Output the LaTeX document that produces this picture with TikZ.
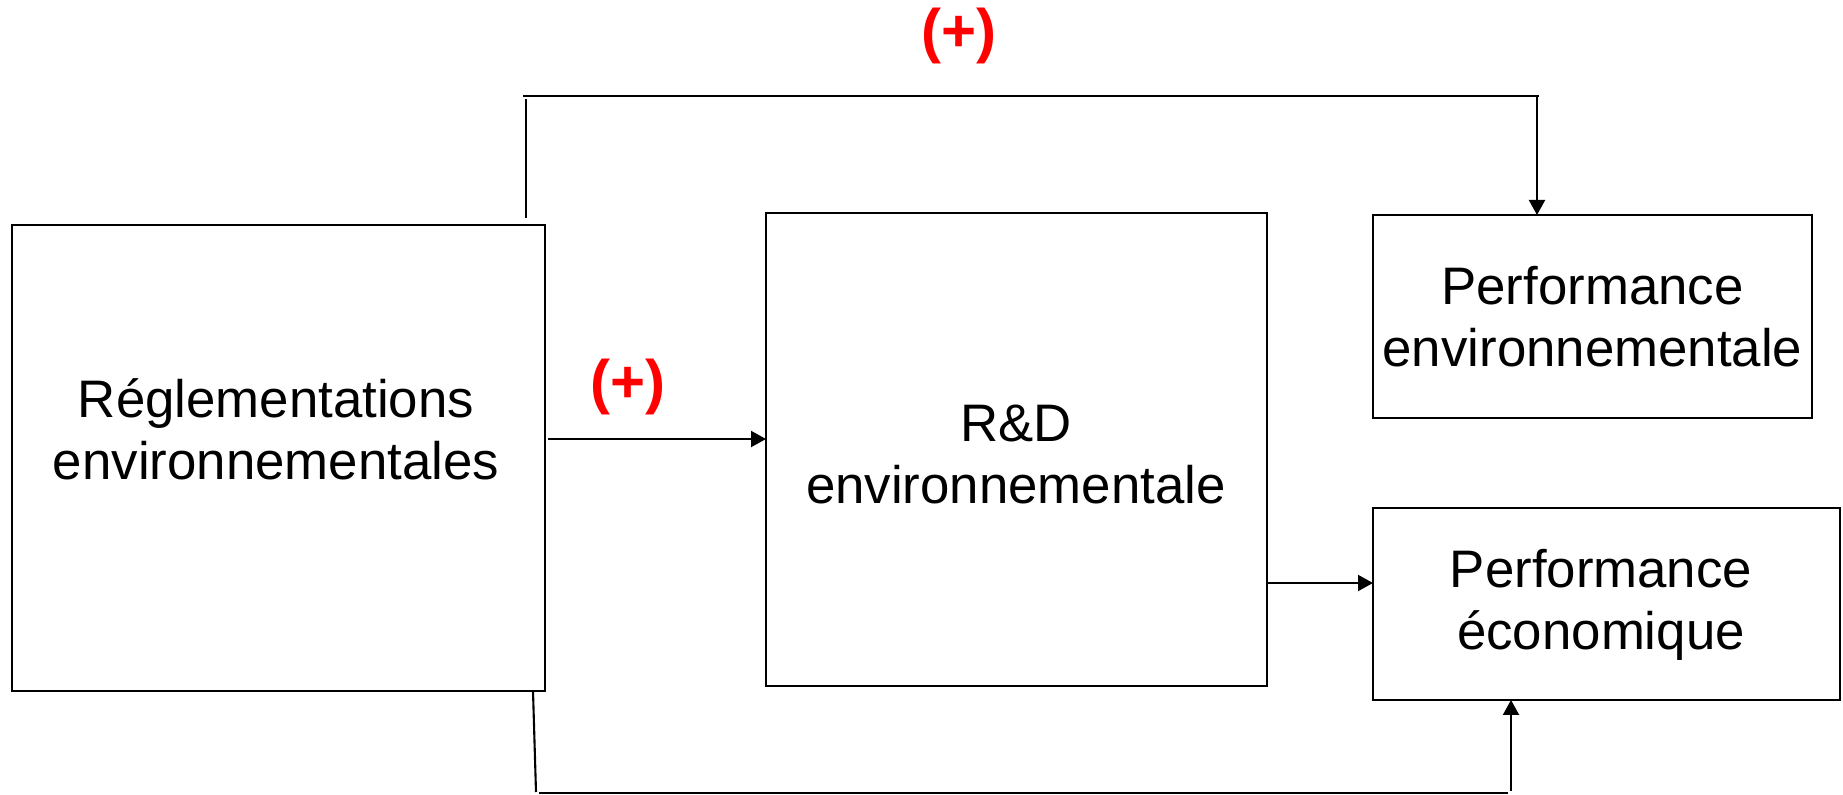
\documentclass[tikz,border=0pt]{standalone}
\usepackage{fontspec}
\setmainfont{Liberation Sans}
\usetikzlibrary{arrows.meta}
\begin{document}
\begin{tikzpicture}[x=0.5pt,y=-0.5pt,
 box/.style={draw, line width=0.7pt, inner sep=0pt, outer sep=0pt, align=center, font=\fontsize{26.4}{31}\selectfont},
 lbl/.style={inner sep=0pt, align=center, font=\fontsize{26.4}{31}\selectfont},
 plus/.style={text=red, inner sep=0pt, font=\bfseries\fontsize{30}{36}\selectfont},
 conn/.style={line width=1.05pt},
 arr/.style={line width=1.05pt, -{Triangle[length=7.5pt,width=8pt]}}]
\path[fill=white, use as bounding box] (0,0) rectangle (1843,795);
% boxes
\node[box, minimum width=266.5pt, minimum height=233pt] (A) at (278.5,458) {};
\node[lbl] (Atext) at (276,429) {Réglementations\\environnementales};
\node[box, minimum width=250.5pt, minimum height=236.5pt] (B) at (1016.5,449.5) {};
\node[lbl] (Btext) at (1016,454) {R\&D\\environnementale};
\node[box, minimum width=219.5pt, minimum height=101.5pt] (C) at (1592.5,316.5) {Performance\\environnementale};
\node[box, minimum width=233.5pt, minimum height=96pt] (D) at (1606.5,604) {};
\node[lbl] (Dtext) at (1601,605) {Performance\\économique};
% labels
\node[plus] (p1) at (959,36) {(+)};
\node[plus] (p2) at (628,387) {(+)};
% top connector
\coordinate (t1) at (526,218);
\coordinate (t2) at (526,99);
\coordinate (t3) at (523,96);
\coordinate (t4) at (1539,96);
\coordinate (t5) at (1537,96);
\draw[conn] (t1) -- (t2);
\draw[conn] (t3) -- (t4);
\draw[arr] (t5) -- (t5 |- C.north);
% middle arrow
\coordinate (m1) at (548,439);
\draw[arr] (m1) -- (m1 -| B.west);
% R&D to economic
\coordinate (r1) at (1267,583);
\draw[arr] (r1) -- (r1 -| D.west);
% bottom connector
\coordinate (b1) at (533,691);
\coordinate (b2) at (536,792);
\coordinate (b3) at (539,793);
\coordinate (b4) at (1508,793);
\coordinate (b5) at (1511,791);
\draw[conn] (b1) -- (b2);
\draw[conn] (b3) -- (b4);
\draw[arr] (b5) -- (b5 |- D.south);
\end{tikzpicture}
\end{document}
